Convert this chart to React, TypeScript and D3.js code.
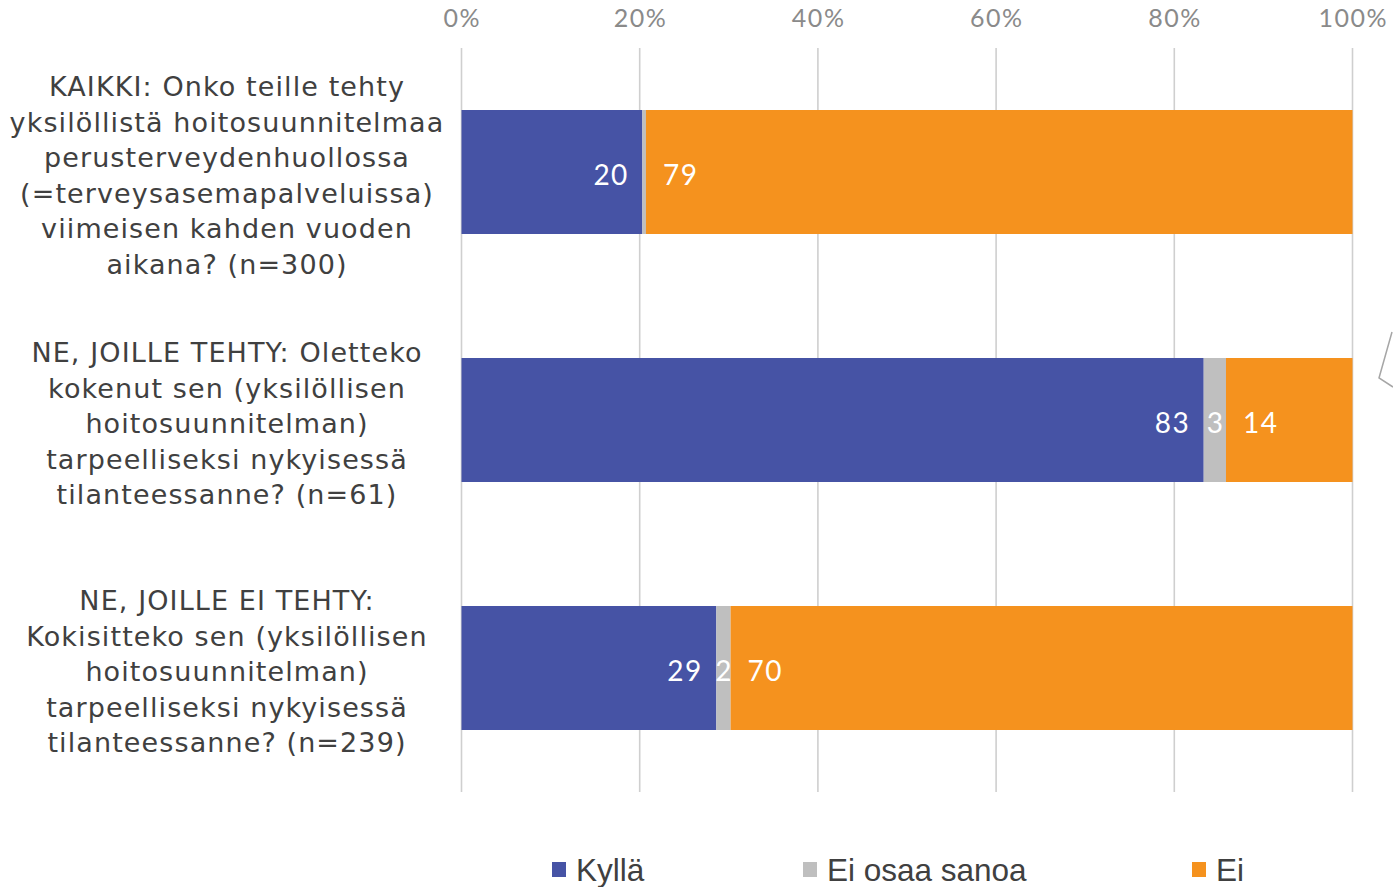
import React from "react";
import * as d3 from "d3";

const categories: string[][] = [
  [
    "KAIKKI: Onko teille tehty",
    "yksilöllistä hoitosuunnitelmaa",
    "perusterveydenhuollossa",
    "(=terveysasemapalveluissa)",
    "viimeisen kahden vuoden",
    "aikana? (n=300)",
  ],
  [
    "NE, JOILLE TEHTY: Oletteko",
    "kokenut sen (yksilöllisen",
    "hoitosuunnitelman)",
    "tarpeelliseksi nykyisessä",
    "tilanteessanne? (n=61)",
  ],
  [
    "NE, JOILLE EI TEHTY:",
    "Kokisitteko sen (yksilöllisen",
    "hoitosuunnitelman)",
    "tarpeelliseksi nykyisessä",
    "tilanteessanne? (n=239)",
  ],
];

const seriesNames = ["Kyllä", "Ei osaa sanoa", "Ei"];
const kylla = [20.3, 83.3, 28.6];
const eos = [0.4, 2.5, 1.6];
const ei = [79.3, 14.2, 69.8];
const tickValues = [0, 20, 40, 60, 80, 100];
const colors = ["#4653A5", "#BFBFBF", "#F5921E"];

const W = 1393;
const H = 887;

export default function App() {
  const x = d3.scaleLinear().domain([0, 100]).range([461.5, 1352.5]);
  const y = d3
    .scaleBand<number>()
    .domain(categories.map((_, i) => i))
    .range([48, 792])
    .paddingInner(0.5)
    .paddingOuter(0.25);

  const rows = categories.map((_, i) => ({ k: kylla[i], e: eos[i], n: ei[i] }));
  const stack = d3.stack<any>().keys(["k", "e", "n"])(rows);

  const lineH = 35.5;
  const legendX = [552, 803, 1192];

  return (
    <svg width={W} height={H} style={{ display: "block", position: "absolute", left: 0, top: 0 }}>
      <rect width={W} height={H} fill="#fff" />
      {tickValues.map((t) => (
        <g key={t}>
          <line x1={x(t)} x2={x(t)} y1={48} y2={792} stroke="#CFCFCF" strokeWidth={1.6} />
          <text
            x={x(t) + 0.75}
            y={27}
            textAnchor="middle"
            fontFamily="Lato, 'Open Sans', sans-serif"
            fontSize={25}
            letterSpacing={1.5}
            fill="#8A8A8A"
          >
            {t}%
          </text>
        </g>
      ))}
      {stack.map((s, si) =>
        s.map((d, i) => {
          const x0 = x(d[0]);
          const x1 = x(d[1]);
          const v = d[1] - d[0];
          const yy = y(i)!;
          const bw = y.bandwidth();
          let tx = (x0 + x1) / 2 + 0.75;
          let anchor = "middle";
          if (si === 0) {
            tx = x1 - 13.5;
            anchor = "end";
          } else if (si === 2) {
            tx = x0 + 17;
            anchor = "start";
          }
          return (
            <g key={`${si}-${i}`}>
              <rect x={x0} y={yy} width={x1 - x0} height={bw} fill={colors[si]} />
              {v >= 1 && (
                <text
                  x={tx}
                  y={yy + bw / 2 + 13}
                  textAnchor={anchor as any}
                  fontFamily="Lato, 'Open Sans', sans-serif"
                  fontSize={28}
                  letterSpacing={1.5}
                  fill="#fff"
                >
                  {Math.round(v)}
                </text>
              )}
            </g>
          );
        })
      )}
      {categories.map((lines, i) => {
        const c = y(i)! + y.bandwidth() / 2;
        return (
          <text
            key={i}
            textAnchor="middle"
            fontFamily="'DejaVu Sans', sans-serif"
            fontSize={27}
            letterSpacing={1.1}
            fill="#404040"
          >
            {lines.map((l, j) => (
              <tspan key={j} x={227} y={c + (j - (lines.length - 1) / 2) * lineH + 13}>
                {l}
              </tspan>
            ))}
          </text>
        );
      })}
      {seriesNames.map((n, i) => (
        <g key={n}>
          <rect x={legendX[i]} y={862} width={14} height={15} fill={colors[i]} />
          <text
            x={legendX[i] + 24}
            y={881}
            fontFamily="'Liberation Sans', Arial, sans-serif"
            fontSize={31.5}
            fill="#404040"
          >
            {n}
          </text>
        </g>
      ))}
      <polyline points="1392,332 1379,378 1393,387" fill="none" stroke="#A6A6A6" strokeWidth={1.5} />
    </svg>
  );
}
